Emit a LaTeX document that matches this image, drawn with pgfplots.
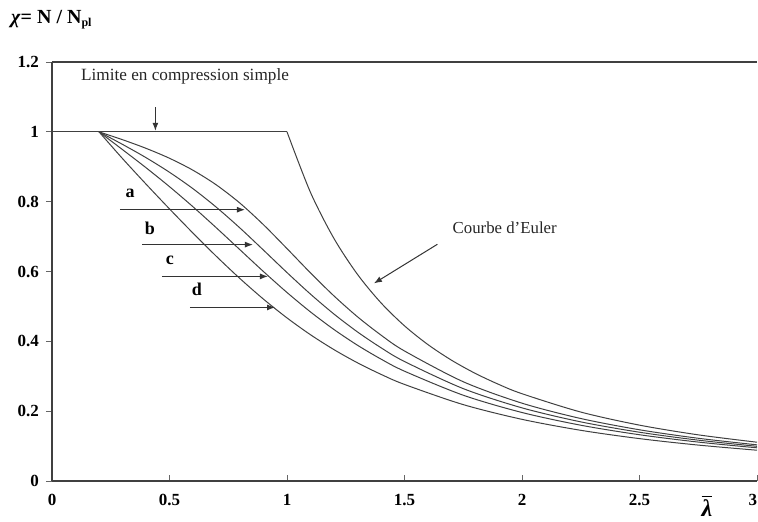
\documentclass[border=0pt]{standalone}
\usepackage{pgfplots}
\pgfplotsset{compat=1.18}
\usepackage{fontspec}
\setmainfont{Liberation Serif}
\usetikzlibrary{arrows.meta}

\pgfplotstableread{
l     a       b       c       d
0.2   1.0000  1.0000  1.0000  1.0000
0.3   0.9775  0.9641  0.9491  0.9235
0.4   0.9528  0.9261  0.8973  0.8504
0.5   0.9243  0.8842  0.8430  0.7793
0.6   0.8900  0.8371  0.7854  0.7100
0.7   0.8477  0.7837  0.7247  0.6431
0.8   0.7957  0.7245  0.6622  0.5797
0.9   0.7339  0.6612  0.5998  0.5208
1.0   0.6656  0.5970  0.5399  0.4671
1.1   0.5960  0.5352  0.4842  0.4189
1.2   0.5300  0.4781  0.4338  0.3762
1.3   0.4703  0.4269  0.3888  0.3385
1.4   0.4179  0.3817  0.3492  0.3055
1.5   0.3724  0.3422  0.3145  0.2766
1.75  0.2843  0.2646  0.2457  0.2188
2.0   0.2229  0.2095  0.1962  0.1766
2.25  0.1790  0.1694  0.1598  0.1452
2.5   0.1467  0.1397  0.1325  0.1214
2.75  0.1224  0.1170  0.1115  0.1029
3.0   0.1036  0.0994  0.0951  0.0882
}\curves

\pgfplotstableread{
l     e
1.0   1.0000
1.1   0.8264
1.2   0.6944
1.3   0.5917
1.4   0.5102
1.5   0.4444
1.6   0.3906
1.7   0.3460
1.8   0.3086
1.9   0.2770
2.0   0.2500
2.25  0.1975
2.5   0.1600
2.75  0.1322
3.0   0.1111
}\euler

\begin{document}
\begin{tikzpicture}
\begin{axis}[
  scale only axis, width=352.5pt, height=209.5pt,
  xmin=0, xmax=3, ymin=0, ymax=1.2,
  axis x line=bottom, axis y line=left,
  axis line style={-, black!75, line width=0.6pt},
  xtick={0,0.5,1,1.5,2,2.5,3},
  ytick={0,0.2,0.4,0.6,0.8,1,1.2},
  xticklabels={0,0.5,1,1.5,2,2.5,\llap{3}},
  yticklabels={0,0.2,0.4,0.6,0.8,1,1.2},
  ticklabel style={font=\fontsize{8.5}{10}\selectfont\bfseries},
  xticklabel style={yshift=-3pt},
  major tick length=3pt,
  tick style={black!60, line width=0.4pt},
  xtick align=inside, ytick align=outside,
  clip=false,
]
\draw[black!75, line width=0.6pt] (axis cs:0,1.2) -- (axis cs:3,1.2);
\addplot[black!75, line width=0.5pt] coordinates {(0,1) (1,1)};
\addplot[black!75, line width=0.5pt, smooth] table[x=l, y=e] {\euler};
\addplot[black!75, line width=0.5pt, smooth] table[x=l, y=a] {\curves};
\addplot[black!75, line width=0.5pt, smooth] table[x=l, y=b] {\curves};
\addplot[black!75, line width=0.5pt, smooth] table[x=l, y=c] {\curves};
\addplot[black!75, line width=0.5pt, smooth] table[x=l, y=d] {\curves};

\node[font=\fontsize{8.6}{10}\selectfont, black!85] at (axis cs:0.566,1.16) {Limite en compression simple};
\draw[black!80, line width=0.5pt, -{Latex[length=4pt,width=3pt]}] (axis cs:0.44,1.07) -- (axis cs:0.44,1.003);

\node[font=\fontsize{8.4}{10}\selectfont, black!85, anchor=west] at (axis cs:1.675,0.725) {Courbe d'Euler};
\draw[black!80, line width=0.5pt, -{Latex[length=4pt,width=3pt]}] (axis cs:1.64,0.678) -- (axis cs:1.37,0.566);

\draw[black!80, line width=0.5pt, -{Latex[length=4pt,width=3pt]}] (axis cs:0.289,0.777) -- (axis cs:0.821,0.777);
\draw[black!80, line width=0.5pt, -{Latex[length=4pt,width=3pt]}] (axis cs:0.383,0.677) -- (axis cs:0.855,0.677);
\draw[black!80, line width=0.5pt, -{Latex[length=4pt,width=3pt]}] (axis cs:0.468,0.586) -- (axis cs:0.919,0.586);
\draw[black!80, line width=0.5pt, -{Latex[length=4pt,width=3pt]}] (axis cs:0.587,0.497) -- (axis cs:0.949,0.497);
\node[font=\fontsize{9}{10}\selectfont\bfseries] at (axis cs:0.332,0.825) {a};
\node[font=\fontsize{9}{10}\selectfont\bfseries] at (axis cs:0.417,0.725) {b};
\node[font=\fontsize{9}{10}\selectfont\bfseries] at (axis cs:0.502,0.632) {c};
\node[font=\fontsize{9}{10}\selectfont\bfseries] at (axis cs:0.617,0.548) {d};
\end{axis}
\node[anchor=west, font=\fontsize{10}{12}\selectfont\bfseries] at (-24pt,230.5pt) {\textit{χ}= N / N\textsubscript{\fontsize{6}{7}\selectfont pl}};
\node[font=\fontsize{12}{14}\selectfont\bfseries] at (327.5pt,-12.5pt) {$\overline{\mbox{\itshape λ}}$};
\pgfresetboundingbox
\useasboundingbox (-26pt,-20pt) rectangle (353pt,240.5pt);
\end{tikzpicture}
\end{document}
